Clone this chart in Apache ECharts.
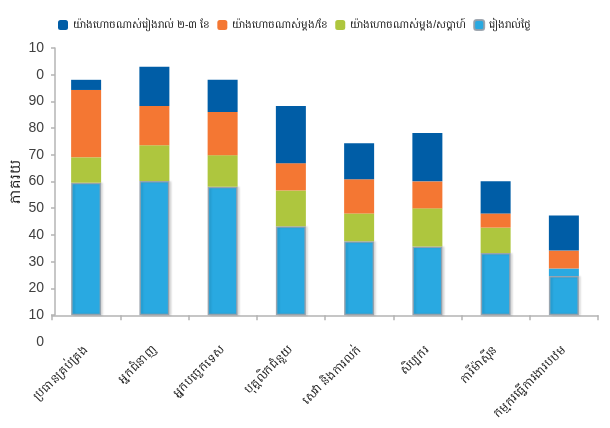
<!DOCTYPE html>
<html>
<head>
<meta charset="utf-8">
<script src="https://cdn.jsdelivr.net/npm/echarts@6/dist/echarts.min.js"></script>
<style>
html,body{margin:0;padding:0;background:#fff;}
#chart{width:610px;height:428px;}
</style>
</head>
<body>
<div id="chart"></div>
<script>
var categories = ["ប្រធានគ្រប់គ្រង","អ្នកជំនាញ","អ្នកបច្ចេកទេស","បុគ្គលិកជំនួយ","សេវា និងការលក់","សិប្បករ","ការីម៉ាស៊ីន","កម្មករធ្វើការងារបឋម"];
var seriesNames = ["រៀងរាល់ថ្ងៃ","យ៉ាងហោចណាស់ម្តង/សប្តាហ៍","យ៉ាងហោចណាស់ម្តង/ខែ","យ៉ាងហោចណាស់រៀងរាល់ ២-៣ ខែ"];
var daily   = [49.6, 50.2, 48.1, 33.3, 27.7, 25.7, 23.3, 14.7];
var weekly  = [9.5, 13.4, 11.8, 13.4, 10.4, 14.3, 9.5, 2.8];
var monthly = [25.2, 14.7, 16.2, 10.2, 12.8, 10.1, 5.3, 6.7];
var months23 = [3.8, 14.7, 12.0, 21.4, 13.5, 18.1, 12.0, 13.1];
var tickLabels = ["0","10","20","30","40","50","60","70","80","90","0","10"]; // for values -10..100
var legendOrder = [3, 2, 1, 0];

var colors = ["#29a9e1", "#aec63e", "#f47733", "#005da6"];
var font = "'Liberation Sans', Arial, sans-serif";
var values = [daily, weekly, monthly, months23];

var series = values.map(function (arr, si) {
  var s = {
    name: seriesNames[si],
    type: 'bar',
    stack: 'total',
    xAxisIndex: 0,
    yAxisIndex: 0,
    barWidth: 30,
    itemStyle: { color: colors[si] },
    data: arr.map(function (v, i) {
      if (si === 1 && i === categories.length - 1) {
        return { value: v, itemStyle: { color: colors[0] } };
      }
      return v;
    })
  };
  if (si === 0) {
    s.itemStyle = {
      color: colors[0],
      borderColor: 'rgba(150,158,168,0.9)',
      borderWidth: 1.5,
      shadowColor: 'rgba(0,0,0,0.12)',
      shadowBlur: 2,
      shadowOffsetX: 2
    };
  }
  return s;
});

var chart = echarts.init(document.getElementById('chart'), null, { renderer: 'canvas' });
chart.setOption({
  animation: false,
  textStyle: { fontFamily: font },
  legend: {
    data: legendOrder.map(function (k) { return seriesNames[k]; }),
    left: 53,
    top: 14,
    width: 557,
    itemWidth: 10,
    itemHeight: 10,
    itemGap: 7,
    textStyle: { fontSize: 10.5, color: '#222', fontFamily: font }
  },
  grid: [
    { left: 52, right: 12, top: 48, height: 294, containLabel: false },
    { left: 52, right: 12, top: 48, height: 267, containLabel: false }
  ],
  xAxis: [
    {
      type: 'category',
      gridIndex: 0,
      data: categories,
      axisLine: { onZero: true, lineStyle: { color: '#b4b4b4', width: 1.5 } },
      axisTick: { show: true, length: 5, lineStyle: { color: '#b4b4b4', width: 1.5 } },
      axisLabel: { rotate: 45, fontSize: 12, color: '#222', margin: 6, fontFamily: font, interval: 0 }
    },
    {
      type: 'category',
      gridIndex: 1,
      data: categories,
      show: false
    }
  ],
  yAxis: [
    {
      type: 'value',
      gridIndex: 0,
      min: -10,
      max: 100,
      interval: 10,
      axisLine: { show: false },
      axisTick: { show: false },
      splitLine: { show: false },
      axisLabel: {
        fontSize: 14,
        color: '#404040',
        margin: 8,
        fontFamily: font,
        formatter: function (v) {
          var idx = Math.round((v + 10) / 10);
          return tickLabels[idx] !== undefined ? tickLabels[idx] : '';
        }
      }
    },
    {
      type: 'value',
      gridIndex: 1,
      min: 0,
      max: 100,
      interval: 10,
      name: 'ភាគរយ',
      nameLocation: 'middle',
      nameRotate: 90,
      nameGap: 32,
      nameTextStyle: { fontSize: 15, color: '#222', fontFamily: font },
      axisLine: { show: true, lineStyle: { color: '#b4b4b4', width: 1.5 } },
      axisTick: { show: true, length: 4, lineStyle: { color: '#b4b4b4', width: 1.5 } },
      splitLine: { show: false },
      axisLabel: { show: false }
    }
  ],
  series: series
});
</script>
</body>
</html>
